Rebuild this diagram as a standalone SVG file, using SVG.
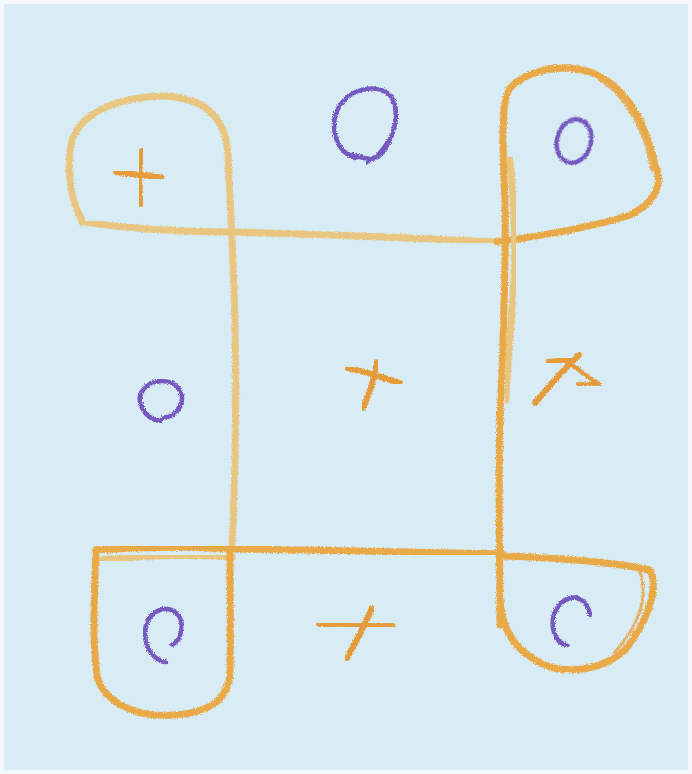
<svg xmlns="http://www.w3.org/2000/svg" width="692" height="774" viewBox="0 0 692 774">
<defs>
<filter id="crayon" x="-5%" y="-5%" width="110%" height="110%">
<feTurbulence type="fractalNoise" baseFrequency="0.9" numOctaves="2" seed="3" result="n"/>
<feDisplacementMap in="SourceGraphic" in2="n" scale="4" xChannelSelector="R" yChannelSelector="G"/>
</filter>
<style>
.pale{fill:none;stroke:#e9c680;stroke-width:7;stroke-linecap:round;stroke-linejoin:round;filter:url(#crayon)}
.deep{fill:none;stroke:#eaa947;stroke-width:7;stroke-linecap:round;stroke-linejoin:round;filter:url(#crayon)}
.thin{fill:none;stroke:#e7b062;stroke-width:3;stroke-linecap:round;filter:url(#crayon)}
.x{fill:none;stroke:#e69b3a;stroke-width:6;stroke-linecap:round;filter:url(#crayon)}
.o{fill:none;stroke:#7458c0;stroke-width:4.5;stroke-linecap:round;filter:url(#crayon)}
</style>
</defs>
<rect width="692" height="774" fill="#f4f8fa"/>
<rect x="4" y="4" width="684" height="766" fill="#d8ecf6"/>

<g id="grid">
<path class="pale" d="M82,220 C70,200 66,165 72,140 C82,110 125,96 165,96 C205,98 226,118 228,155 L232,240 C236,320 238,420 232,548"/>
<path class="pale" d="M82,222 C140,230 190,232 232,232 C320,234 410,238 497,242"/>
<path class="deep" d="M497,242 C540,236 590,228 630,215 C660,200 662,180 655,165 C645,120 625,85 590,72 C560,62 525,72 510,88 C500,100 503,160 505,200 C506,260 503,350 500,420 C498,480 500,560 500,625"/>
<path class="pale" d="M510,160 C514,200 516,240 514,280 C511,330 507,370 506,400"/>
<path class="thin" d="M600,80 C625,95 645,130 652,170"/>
<path class="deep" d="M96,550 C150,546 200,547 232,549 C320,550 420,552 503,554"/>
<path class="pale" d="M100,560 C160,554 200,555 232,557"/>
<path class="deep" d="M96,550 C94,600 92,650 98,680 C108,705 140,718 175,715 C215,712 230,695 230,670 C231,630 230,590 230,550"/>
<path class="deep" d="M503,556 C560,558 610,562 650,570 C660,590 645,625 625,650 C600,672 560,676 535,660 C510,645 502,625 500,600"/>
<path class="thin" d="M640,572 C650,600 635,630 615,652"/>
</g>

<g id="mark-tl">
<path class="x" d="M116,172 C130,174 148,175 162,178"/>
<path class="x" d="M142,151 C139,165 138,180 141,204"/>
</g>
<g id="mark-tm">
<path class="o" d="M356,158 C335,152 328,125 340,105 C355,85 385,83 393,100 C402,120 388,148 378,157 C372,161 364,158 352,155"/>
<path class="o" d="M388,140 C382,150 375,158 367,163" style="stroke-width:2.5"/>
</g>
<g id="mark-tr">
<ellipse class="o" cx="574" cy="141" rx="17" ry="22" transform="rotate(15 574 141)"/>
</g>
<g id="mark-ml">
<path class="o" d="M160,421 C143,418 135,400 143,390 C152,378 172,378 180,390 C186,402 178,416 163,418"/>
</g>
<g id="mark-c">
<path class="x" d="M348,368 C365,372 385,378 400,383"/>
<path class="x" d="M377,362 C375,378 370,392 363,408"/>
</g>
<g id="mark-mr">
<path class="x" d="M535,403 C550,385 565,368 579,355"/>
<path class="x" d="M548,362 C558,361 566,360 574,359"/>
<path class="x" d="M572,365 C582,372 592,380 600,385 C592,384 585,384 578,384" style="stroke-width:4"/>
</g>
<g id="mark-bl">
<path class="o" d="M166,662 C150,660 142,640 146,625 C150,612 165,604 175,612 C186,620 182,640 172,645"/>
</g>
<g id="mark-bm">
<path class="x" d="M319,624 C345,625 370,626 393,626"/>
<path class="x" d="M372,608 C365,625 355,643 347,658"/>
</g>
<g id="mark-br">
<path class="o" d="M590,615 C588,602 580,596 570,598 C557,602 551,616 553,628 C555,638 560,644 567,645"/>
</g>
</svg>
